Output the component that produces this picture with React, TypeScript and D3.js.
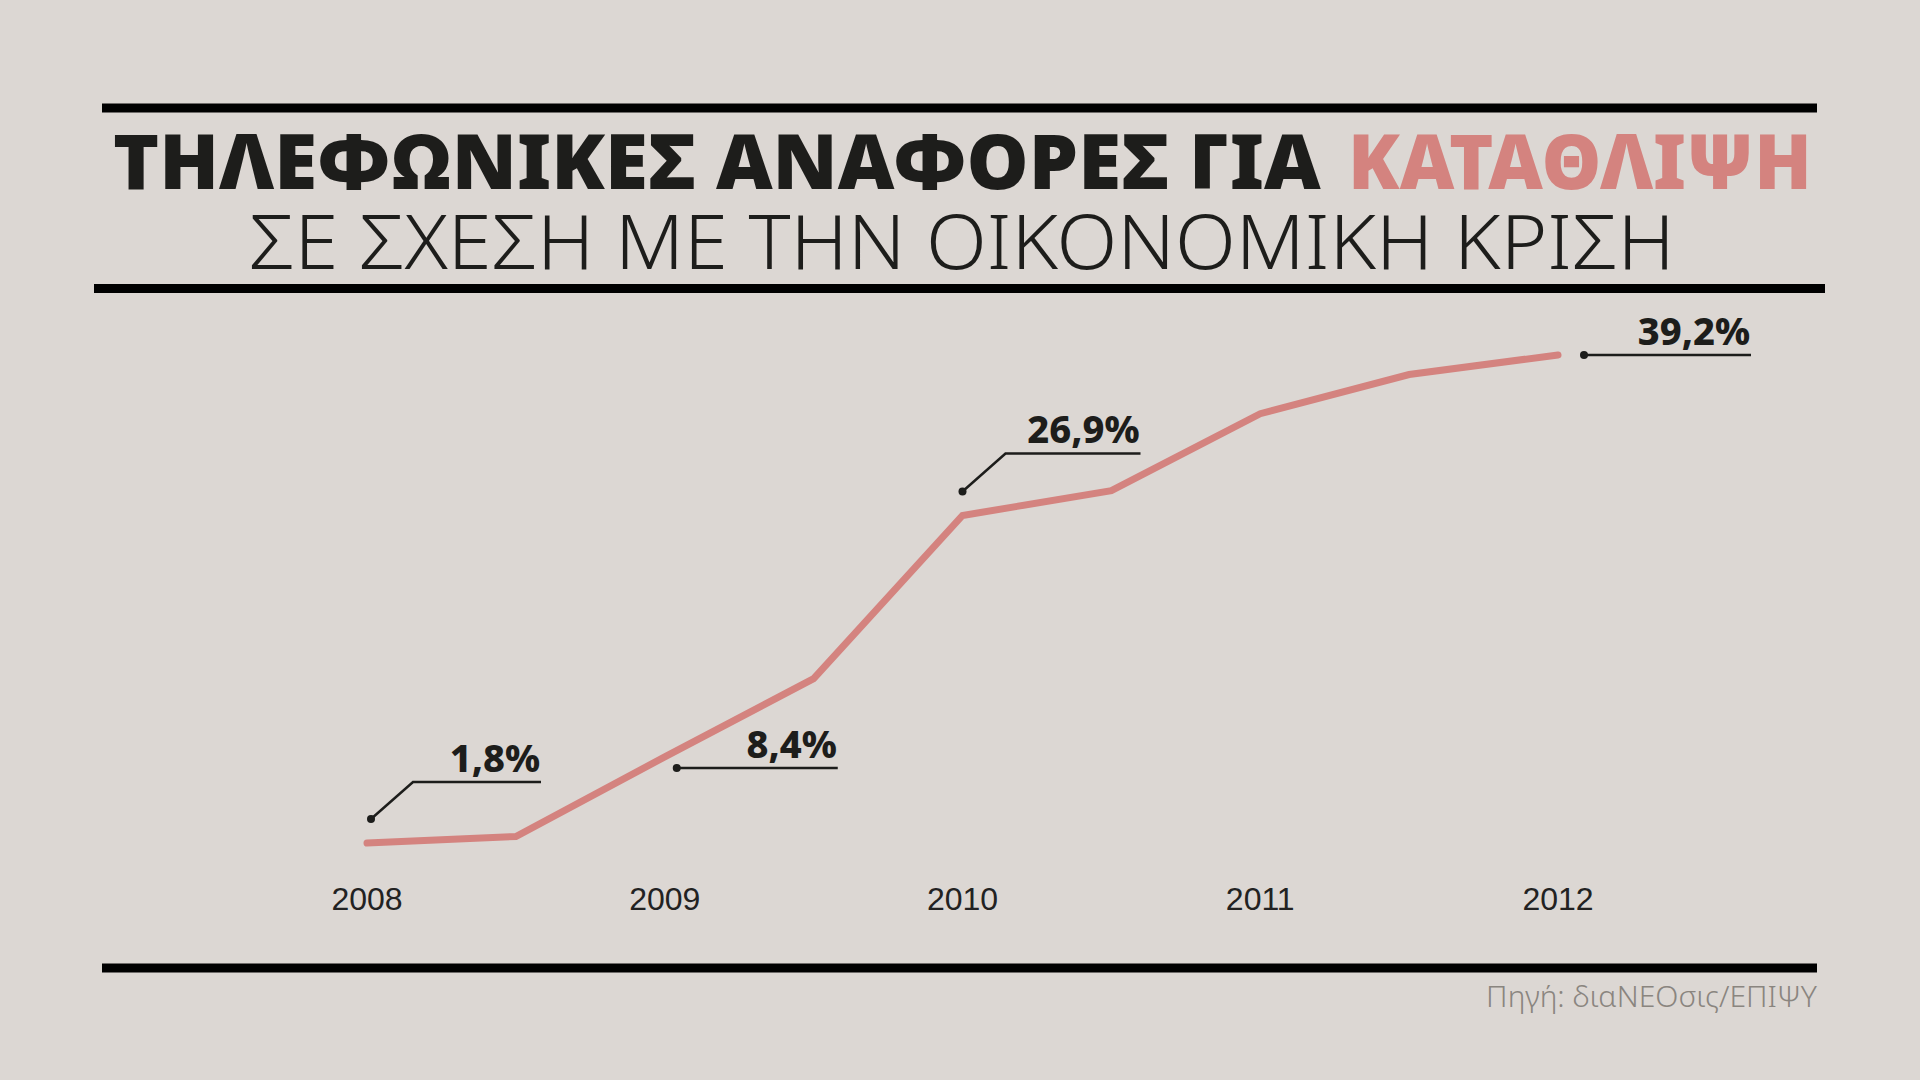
import React, { useEffect, useLayoutEffect, useRef, useState } from 'react';
import * as d3 from 'd3';

// ── Data ──────────────────────────────────────────────────────────────────────
const periods = [2008, 2008.5, 2009, 2009.5, 2010, 2010.5, 2011, 2011.5, 2012];
const shares = [1.8, 2.3, 8.4, 14.4, 26.9, 28.8, 34.7, 37.7, 39.2];
const tickYears = [2008, 2009, 2010, 2011, 2012];
const labelledPeriods = [2008, 2009, 2010, 2012];

const titleDark = 'ΤΗΛΕΦΩΝΙΚΕΣ ΑΝΑΦΟΡΕΣ ΓΙΑ';
const titleAccent = 'ΚΑΤΑΘΛΙΨΗ';
const subtitle = 'ΣΕ ΣΧΕΣΗ ΜΕ ΤΗΝ ΟΙΚΟΝΟΜΙΚΗ ΚΡΙΣΗ';
const source = 'Πηγή: διαNEOσις/ΕΠΙΨΥ';

// ── Layout ────────────────────────────────────────────────────────────────────
const W = 1920;
const H = 1080;
const BG = '#dcd7d3';
const INK = '#1d1d1b';
const PINK = '#d4837f';
const SANS = "'Noto Sans', 'DejaVu Sans', sans-serif";

// leader offsets for each callout: dot offset from point, elbow, end of rule
const CALLOUTS = [
  { dx: 4, dy: -24, elbow: [42, -37], end: 170 },
  { dx: 12, dy: 11, elbow: null, end: 161 },
  { dx: 0, dy: -24, elbow: [43, -38], end: 178 },
  { dx: 26, dy: 0, elbow: null, end: 167 },
];

const fmtPct = (v: number) => d3.format('.1f')(v).replace('.', ',') + '%';

// text squeezed/stretched horizontally to span a given width
function FitText(props: {
  x: number;
  y: number;
  width: number;
  anchor?: 'start' | 'end';
  fontSize: number;
  fontWeight: number;
  fill: string;
  children: string;
}) {
  const ref = useRef<SVGTextElement>(null);
  const [sx, setSx] = useState(1);
  useLayoutEffect(() => {
    if (!ref.current) return;
    const len = ref.current.getComputedTextLength();
    if (len > 0) setSx(props.width / len);
  }, [props.children, props.width]);
  return (
    <text
      ref={ref}
      transform={`translate(${props.x},${props.y}) scale(${sx},1)`}
      textAnchor={props.anchor ?? 'start'}
      fontFamily={SANS}
      fontSize={props.fontSize}
      fontWeight={props.fontWeight}
      fill={props.fill}
    >
      {props.children}
    </text>
  );
}

export default function App() {
  useEffect(() => {
    document.body.style.margin = '0';
  }, []);

  const x = d3.scaleLinear().domain([2008, 2012]).range([367, 1558]);
  const y = d3.scaleLinear().domain([0, 40]).range([866.5, 344.5]);

  const line = d3
    .line<number>()
    .x((_, i) => x(periods[i]))
    .y((d) => y(d));

  return (
    <svg
      width={W}
      height={H}
      style={{ position: 'absolute', left: 0, top: 0, background: BG }}
    >
      <rect width={W} height={H} fill={BG} />

      {/* rules */}
      <rect x={102} y={103.5} width={1715} height={9} fill="#000" />
      <rect x={94} y={284} width={1731} height={9} fill="#000" />
      <rect x={102} y={963.5} width={1715} height={9} fill="#000" />

      {/* title */}
      <FitText x={113} y={189} width={1208} fontSize={76} fontWeight={900} fill={INK}>
        {titleDark}
      </FitText>
      <FitText x={1348} y={189} width={464} fontSize={76} fontWeight={900} fill={PINK}>
        {titleAccent}
      </FitText>
      <FitText x={249} y={269} width={1426} fontSize={76} fontWeight={300} fill={INK}>
        {subtitle}
      </FitText>

      {/* line */}
      <path
        d={line(shares) ?? ''}
        fill="none"
        stroke={PINK}
        strokeWidth={7}
        strokeLinecap="round"
        strokeLinejoin="miter"
      />

      {/* callouts */}
      {labelledPeriods.map((p, k) => {
        const i = periods.indexOf(p);
        const c = CALLOUTS[k];
        const px = x(p) + c.dx;
        const py = y(shares[i]) + c.dy;
        const ex = c.elbow ? px + c.elbow[0] : px;
        const ey = c.elbow ? py + c.elbow[1] : py;
        const endX = px + c.end;
        return (
          <g key={p}>
            <polyline
              points={`${px},${py} ${ex},${ey} ${endX},${ey}`}
              fill="none"
              stroke={INK}
              strokeWidth={2.5}
            />
            <circle cx={px} cy={py} r={4} fill={INK} />
            <text
              x={endX - 1}
              y={ey - 10}
              textAnchor="end"
              fontFamily={SANS}
              fontWeight={800}
              fontSize={38}
              fill={INK}
            >
              {fmtPct(shares[i])}
            </text>
          </g>
        );
      })}

      {/* x axis labels */}
      {tickYears.map((t) => (
        <text
          key={t}
          x={x(t)}
          y={910}
          textAnchor="middle"
          fontFamily="'Liberation Sans', Arial, sans-serif"
          fontSize={32}
          fill="#222"
        >
          {t}
        </text>
      ))}

      {/* source */}
      <FitText x={1817} y={1007} width={331} anchor="end" fontSize={30} fontWeight={300} fill="#8a857f">
        {source}
      </FitText>
    </svg>
  );
}
